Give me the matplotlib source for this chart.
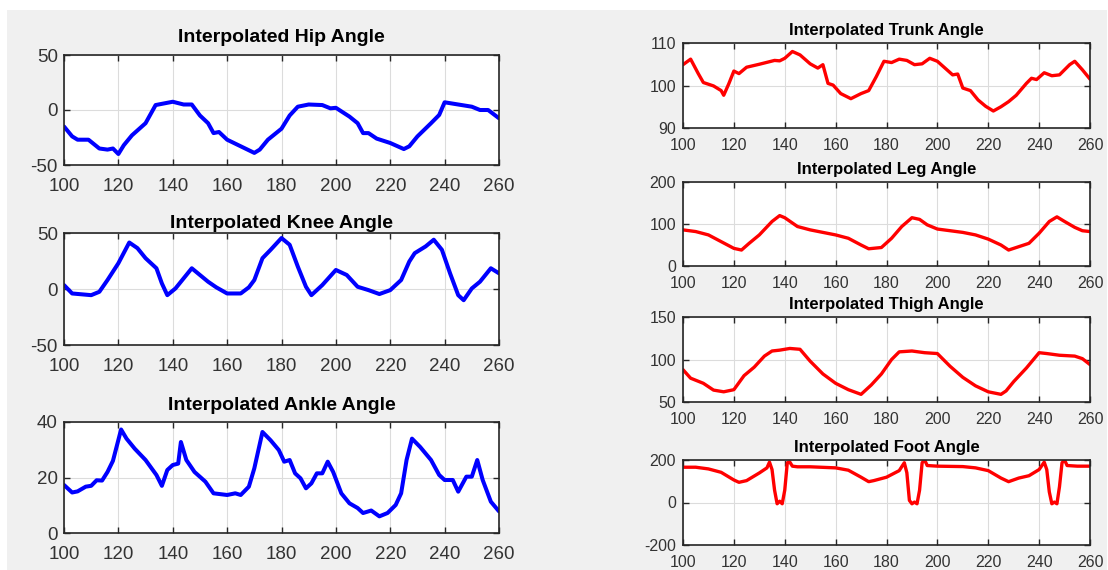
import matplotlib
matplotlib.use("Agg")
import matplotlib.pyplot as plt
from matplotlib.patches import Rectangle

plt.rcParams['font.family'] = ['Liberation Sans', 'DejaVu Sans']
plt.rcParams['axes.unicode_minus'] = False

# ---------------- data ----------------
hip_x = [100,103,105,109,113,116,118,120,122,125,130,133.7,140,144,147,150,153,155,157,160,165,170,172,175,180,183,186,190,195,198,200,205,208,210,212,215,220,225,227,230,235,238,240,245,250,253,256,260]
hip_y = [-15,-24,-27,-27,-35,-36,-35,-40,-32,-23,-12,4.5,7.5,5,5,-5,-12,-21,-20,-27,-33,-39,-36,-27,-17,-5,3,5,4.5,1.5,2,-6,-12,-21,-21,-26,-30,-35.5,-33,-24,-12,-4.5,7,5,3,0,0,-7.5]

knee_x = [100,103,110,113,116,120,124,127,130,134,136,138,141,144,147,150,153,156,160,165,168,170,173,176,180,183,186,189,191,195,200,204,208,212,216,220,224,227,229,233,236,239,242,245,247,250,253,257,260]
knee_y = [3.5,-4,-5.5,-2.5,8,23,41.5,36.5,27.5,18.5,5,-5.5,0.5,9.5,18.5,12.5,6.5,1.5,-4,-4,1.5,8,27.5,35,45.5,39.5,20,2,-5.5,3.5,17,12.5,2,-1,-4.5,-1,8,24.5,32,38,44,35,14,-5.5,-10,0.5,6.5,18.5,14]

ankle_x = [100,103,105,108,110,112,114,116,118,121,123,126,130,134,136,138,140,142,143,145,148,152,155,160,163,165,168,170,173,176,179,181,183,185,187,189,191,193,195,197,199,202,205,208,210,213,216,219,222,224,226,228,231,235,238,240,243,245,248,250,251,252,254,257,260]
ankle_y = [17.3,14.6,15,16.7,17,19,18.9,22,26,37.3,34,30.4,26.3,20.9,17,22.7,24.5,25,32.8,26.3,22,18.5,14.3,13.7,14.3,13.7,16.7,23.3,36.4,33.4,29.9,25.7,26.3,21.5,19.7,16.1,17.9,21.5,21.5,25.7,22,14.3,10.7,9,7.2,8.1,6,7.2,10.1,14.3,26.3,34,31,26.3,20.9,19.1,19.1,14.9,20.3,20.3,23.3,26.3,19.1,11.3,7.8]

trunk_x = [100,103,106,108,112,115,116,118,120,122,125,130,136,138,140,143,146,150,153,155,157,159,162,166,170,173,176,179,182,185,188,191,194,197,200,203,206,208,210,213,216,219,222,225,228,231,235,237,239,242,245,248,252,254,257,260]
trunk_y = [104.9,106.2,102.8,100.7,99.9,98.8,97.7,100.4,103.4,102.8,104.3,105,105.9,105.8,106.4,108,107.2,105.1,104.1,104.9,100.5,100.1,98.1,96.9,98.1,98.8,102.1,105.7,105.4,106.2,105.9,104.9,105.1,106.4,105.7,104.1,102.5,102.7,99.4,98.8,96.6,95.1,94,95,96.2,97.7,100.5,101.7,101.4,103,102.3,102.5,104.9,105.7,103.7,101.5]

leg_x = [100,105,110,115,120,123,126,130,135,138,140,145,150,155,160,165,170,173,178,182,186,190,193,196,200,205,210,215,220,225,228,232,236,240,244,247,250,254,257,260]
leg_y = [86,82,74,58,42,38,54,74,106,120,115,94,86,80,74,66,50,41,44,66,94,115,111,98,88,84,80,74,64,50,38,46,54,78,106,117,106,92,84,82]

thigh_x = [100,103,108,112,116,120,124,128,132,135,138,142,146,150,155,160,165,170,174,178,182,185,190,195,200,205,210,215,220,225,227,230,235,240,243,248,254,257,260]
thigh_y = [88,78,72,64,62,64.5,81,91,104,110,111,113,112,98,83,72,64.5,59,70,83,100,109,110,108,107,92,79,69,62,59,63,74,90,108,107,105,104,101,94]

foot_x = [100,105,110,115,120,122,125,130,133,134,135,136,137,138,139,140,141,142,143,145,150,160,165,170,173,175,180,185,187,188,189,190,191,192,193,194,195,196,200,210,215,220,225,228,232,236,240,242,243,244,245,246,247,248,249,250,251,255,260]
foot_y = [166,166,158,142,106,95,103,139,163,190,155,58,-6,6,-6,58,187,190,171,168,168,163,152,119,98,103,119,150,187,140,10,-6,2,-6,58,187,200,174,171,169,163,150,115,98,115,126,155,190,155,50,-6,2,-6,74,187,200,174,171,171]

x_ticks = [100, 120, 140, 160, 180, 200, 220, 240, 260]

left_panels = [
    ("Interpolated Hip Angle", hip_x, hip_y, (-50, 50), [-50, 0, 50]),
    ("Interpolated Knee Angle", knee_x, knee_y, (-50, 50), [-50, 0, 50]),
    ("Interpolated Ankle Angle", ankle_x, ankle_y, (0, 40), [0, 20, 40]),
]
right_panels = [
    ("Interpolated Trunk Angle", trunk_x, trunk_y, (90, 110), [90, 100, 110]),
    ("Interpolated Leg Angle", leg_x, leg_y, (0, 200), [0, 100, 200]),
    ("Interpolated Thigh Angle", thigh_x, thigh_y, (50, 150), [50, 100, 150]),
    ("Interpolated Foot Angle", foot_x, foot_y, (-200, 200), [-200, 0, 200]),
]

# ---------------- layout ----------------
W, H = 1108, 570
fig = plt.figure(figsize=(W / 100, H / 100), dpi=100, facecolor='white')
fig.patches.append(Rectangle((7 / W, 0), 1 - 8 / W, 1 - 10 / H, transform=fig.transFigure,
                             facecolor='#f0f0f0', edgecolor='none', zorder=-10))

def px_rect(x0, x1, top, bottom):
    return [x0 / W, 1 - bottom / H, (x1 - x0) / W, (bottom - top) / H]

left_rects = [px_rect(64, 499, 55, 165), px_rect(64, 499, 233, 345), px_rect(64, 499, 422, 533)]
left_pads = [9.4, 3.6, 8.6]
right_rects = [px_rect(683, 1090, 43, 128), px_rect(683, 1090, 182, 266),
               px_rect(683, 1090, 317, 402), px_rect(683, 1090, 460, 545)]

def style(ax, yl, yt, fs, xpad, ypad):
    ax.set_xlim(100, 260)
    ax.set_ylim(*yl)
    ax.set_xticks(x_ticks)
    ax.set_yticks(yt)
    ax.grid(True, color='#dcdcdc', linewidth=0.8)
    ax.set_axisbelow(True)
    ax.tick_params(direction='in', length=4, width=1, color='#262626',
                   labelcolor='#333333', top=True, right=True, labelsize=fs)
    ax.tick_params(axis='x', pad=xpad)
    ax.tick_params(axis='y', pad=ypad)
    for s in ax.spines.values():
        s.set_color('#262626')
        s.set_linewidth(1.2)

for (title, xs, ys, yl, yt), rect, pad in zip(left_panels, left_rects, left_pads):
    ax = fig.add_axes(rect)
    ax.plot(xs, ys, color='#0000ff', linewidth=2.9, solid_joinstyle='round', solid_capstyle='round')
    style(ax, yl, yt, 13.5, 9.5, 4.5)
    ax.set_title(title, fontsize=14, fontweight='bold', pad=pad, color='black')

for (title, xs, ys, yl, yt), rect in zip(right_panels, right_rects):
    ax = fig.add_axes(rect)
    ax.plot(xs, ys, color='#ff0000', linewidth=2.4, solid_joinstyle='round', solid_capstyle='round')
    style(ax, yl, yt, 11.5, 7.0, 5.0)
    ax.set_title(title, fontsize=12, fontweight='bold', pad=6.0, color='black')

fig.savefig('out.png', dpi=100, facecolor=fig.get_facecolor())
